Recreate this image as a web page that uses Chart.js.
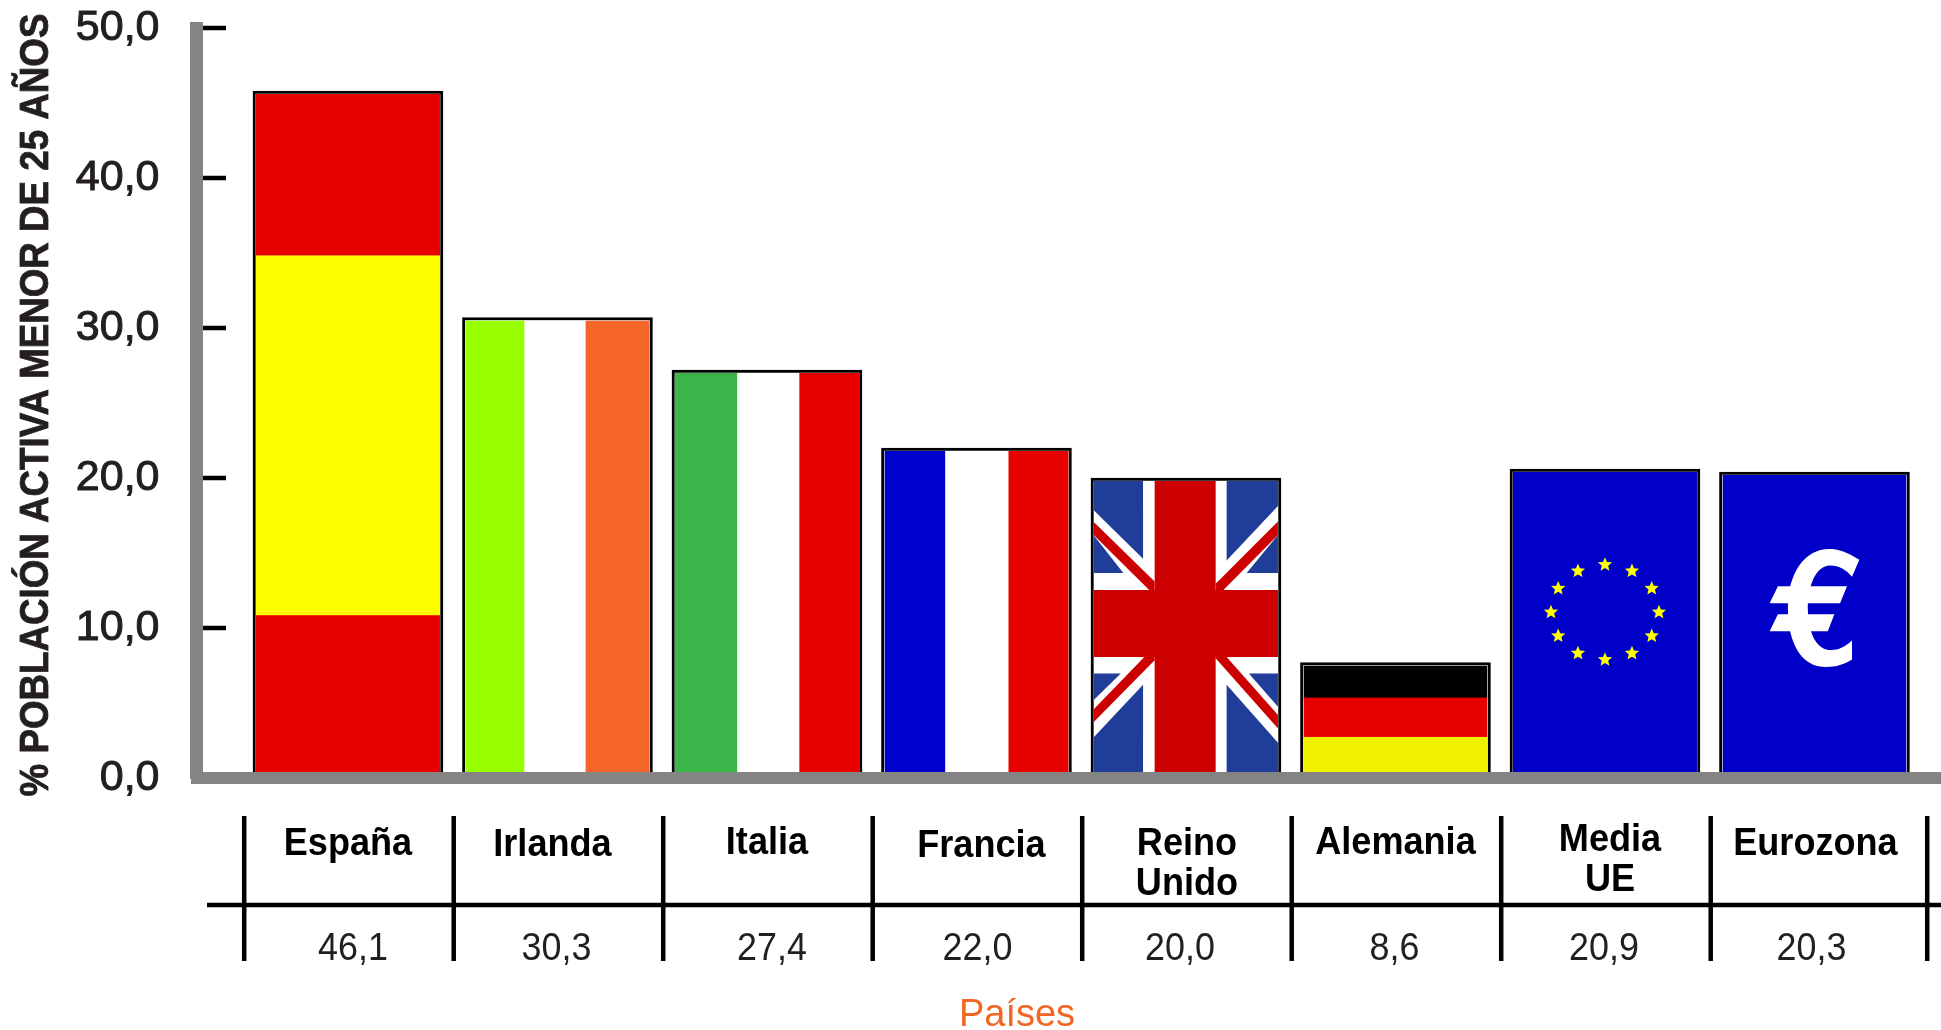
<!DOCTYPE html>
<html lang="es">
<head>
<meta charset="utf-8">
<title>Población activa menor de 25 años</title>
<script src="https://cdn.jsdelivr.net/npm/chart.js@4/dist/chart.umd.min.js"></script>
<style>
    html, body { margin: 0; padding: 0; background: #fff; }
    #chartBox { width: 1941px; height: 1030px; }
</style>
</head>
<body>
<div id="chartBox"><canvas id="paroChart"></canvas></div>
<script>
const countries = ['España', 'Irlanda', 'Italia', 'Francia', ['Reino', 'Unido'], 'Alemania', ['Media', 'UE'], 'Eurozona'];
// alturas de las barras tal como se ven en el dibujo (no coinciden siempre con la tabla)
const barHeights = [45.8, 30.7, 27.2, 22.0, 20.0, 7.7, 20.6, 20.4];
const tableValues = ['46,1', '30,3', '27,4', '22,0', '20,0', '8,6', '20,9', '20,3'];
const yTickLabels = ['0,0', '10,0', '20,0', '30,0', '40,0', '50,0'];
const flags = ['spain', 'ireland', 'italy', 'france', 'uk', 'germany', 'eu', 'euro'];

const yTitle = '% POBLACIÓN ACTIVA MENOR DE 25 AÑOS';
const xTitle = 'Países';

// pequeños desplazamientos de los textos de la tabla
const labelShift = [0, -5, 0, 5, 1, 0, 5, 1];
const valueShift = [5, -1, 5, 1, -6, -1, -1, -3];
const labelBaseline = [855, 856, 854, 857, 855, 854, 851, 855];

const RED = '#e60000';
const BLUE = '#0000c8';

function hStripes(ctx, r, parts) {
    let y = r.top;
    parts.forEach(p => {
        ctx.fillStyle = p[1];
        ctx.fillRect(r.left, y, r.w, p[0] * r.h + 1);
        y += p[0] * r.h;
    });
}

function vStripes(ctx, r, parts) {
    let x = r.left;
    parts.forEach(p => {
        ctx.fillStyle = p[1];
        ctx.fillRect(x, r.top, p[0] * r.w + 1, r.h);
        x += p[0] * r.w;
    });
}

// union jack: polígonos relativos a un rectángulo de 570 x 878
const ukBlue = [
    [[0, 0], [152, 0], [152, 230], [0, 87]],
    [[0, 162], [91, 272], [0, 272]],
    [[411, 0], [570, 0], [570, 74], [411, 235]],
    [[570, 160], [473, 272], [570, 272]],
    [[0, 569], [83, 569], [0, 647]],
    [[0, 757], [152, 602], [152, 878], [0, 878]],
    [[480, 569], [570, 667], [570, 569]],
    [[411, 602], [570, 774], [570, 878], [411, 878]]
];
const ukRed = [
    [[0, 122], [188, 297], [188, 322], [171, 322], [0, 160]],
    [[570, 120], [377, 304], [377, 322], [401, 322], [570, 160]],
    [[156, 520], [188, 520], [188, 530], [0, 712], [0, 674]],
    [[411, 520], [377, 520], [377, 524], [570, 732], [570, 692]]
];

function polygon(ctx, r, pts) {
    ctx.beginPath();
    pts.forEach((p, i) => {
        const x = r.left + p[0] / 570 * r.w;
        const y = r.top + p[1] / 878 * r.h;
        if (i === 0) ctx.moveTo(x, y); else ctx.lineTo(x, y);
    });
    ctx.closePath();
    ctx.fill();
}

function drawUk(ctx, r) {
    ctx.fillStyle = '#fff';
    ctx.fillRect(r.left, r.top, r.w, r.h);
    ctx.fillStyle = '#1f3d99';
    ukBlue.forEach(p => polygon(ctx, r, p));
    ctx.fillStyle = '#cc0000';
    ukRed.forEach(p => polygon(ctx, r, p));
    polygon(ctx, r, [[188, 0], [377, 0], [377, 878], [188, 878]]);
    polygon(ctx, r, [[0, 322], [570, 322], [570, 520], [0, 520]]);
}

function star(ctx, cx, cy, rad) {
    ctx.beginPath();
    for (let i = 0; i < 10; i++) {
        const a = -Math.PI / 2 + i * Math.PI / 5;
        const d = i % 2 === 0 ? rad : rad * 0.45;
        ctx.lineTo(cx + d * Math.cos(a), cy + d * Math.sin(a));
    }
    ctx.closePath();
    ctx.fill();
}

function drawEu(ctx, r) {
    ctx.fillStyle = BLUE;
    ctx.fillRect(r.left, r.top, r.w, r.h);
    ctx.fillStyle = '#ffff00';
    const cx = r.left + 0.5 * r.w;
    const cy = r.top + 0.458 * r.h;
    for (let i = 0; i < 12; i++) {
        const a = i * Math.PI / 6;
        star(ctx, cx + 54 * Math.sin(a), cy - 47.5 * Math.cos(a), 7.5);
    }
}

// símbolo del euro dibujado a mano, relativo a un rectángulo de 554 x 890
function drawEuro(ctx, r) {
    ctx.fillStyle = BLUE;
    ctx.fillRect(r.left, r.top, r.w, r.h);
    const px = v => r.left + v / 554 * r.w;
    const py = v => r.top + (v - 10) / 890 * r.h;
    const bez = (a, b, c, d, e, f) => ctx.bezierCurveTo(px(a), py(b), px(c), py(d), px(e), py(f));
    ctx.fillStyle = '#fff';
    ctx.beginPath();
    ctx.moveTo(px(412), py(259));
    bez(372, 234, 347, 227, 322, 227);
    bez(247, 227, 197, 299, 197, 399);
    bez(197, 504, 237, 574, 312, 574);
    bez(342, 574, 367, 566, 390, 552);
    ctx.lineTo(px(390), py(496));
    bez(370, 514, 350, 524, 327, 524);
    bez(287, 524, 260, 484, 257, 404);
    bez(257, 334, 282, 276, 324, 276);
    bez(352, 276, 372, 289, 390, 309);
    ctx.closePath();
    ctx.fill();
    const box = { left: r.left, top: r.top - 10 / 890 * r.h, w: r.w * 570 / 554, h: r.h * 878 / 890 };
    polygon(ctx, box, [[142, 387], [167, 337], [375, 337], [354, 387]]);
    polygon(ctx, box, [[142, 469], [167, 419], [337, 419], [317, 469]]);
}

const flagPainters = {
    spain: (c, r) => hStripes(c, r, [[0.236, RED], [0.526, '#ffff00'], [0.238, RED]]),
    ireland: (c, r) => vStripes(c, r, [[0.32, '#99ff00'], [0.333, '#fff'], [0.347, '#f5652a']]),
    italy: (c, r) => vStripes(c, r, [[0.338, '#39b54a'], [0.338, '#fff'], [0.324, RED]]),
    france: (c, r) => vStripes(c, r, [[0.33, '#0000cc'], [0.344, '#fff'], [0.326, RED]]),
    uk: drawUk,
    germany: (c, r) => hStripes(c, r, [[0.285, '#000'], [0.35, RED], [0.365, '#f2f200']]),
    eu: drawEu,
    euro: drawEuro
};

const flagPlugin = {
    id: 'flagPlugin',
    afterDatasetsDraw(chart) {
        const ctx = chart.ctx;
        const inset = 3;
        chart.getDatasetMeta(0).data.forEach((bar, i) => {
            const r = {
                left: bar.x - bar.width / 2 + inset,
                top: bar.y + inset,
                w: bar.width - inset * 2,
                h: bar.base - bar.y - inset
            };
            ctx.save();
            ctx.beginPath();
            ctx.rect(r.left, r.top, r.w, r.h);
            ctx.clip();
            flagPainters[flags[i]](ctx, r);
            ctx.restore();
        });
    }
};

// texto estrechado: el original usa una letra alta y condensada
function narrowText(ctx, text, x, y, squeeze, stroke) {
    ctx.save();
    ctx.translate(x, y);
    ctx.scale(squeeze, 1);
    ctx.fillText(text, 0, 0);
    if (stroke) {
        ctx.strokeStyle = ctx.fillStyle;
        ctx.lineWidth = stroke;
        ctx.strokeText(text, 0, 0);
    }
    ctx.restore();
}

// marcas del eje y hacia dentro, la tabla inferior y los títulos
const tablePlugin = {
    id: 'tablePlugin',
    afterDraw(chart) {
        const ctx = chart.ctx;
        const xs = chart.scales.x;
        const ys = chart.scales.y;
        ctx.save();

        ctx.strokeStyle = '#000';
        ctx.lineWidth = 4.5;
        ys.ticks.forEach(t => {
            if (t.value === 0) return;
            const py = ys.getPixelForValue(t.value);
            ctx.beginPath();
            ctx.moveTo(203, py);
            ctx.lineTo(226, py);
            ctx.stroke();
        });

        ctx.beginPath();
        ctx.moveTo(207, 905);
        ctx.lineTo(1941, 905);
        for (let i = 0; i <= countries.length; i++) {
            const px = xs.getPixelForValue(i - 0.5) + (i === countries.length ? 8 : 1);
            ctx.moveTo(px, 816);
            ctx.lineTo(px, 961);
        }
        ctx.stroke();

        ctx.textAlign = 'center';
        ctx.textBaseline = 'alphabetic';
        countries.forEach((name, i) => {
            const px = xs.getPixelForValue(i);
            const lines = Array.isArray(name) ? name : [name];
            ctx.fillStyle = '#000';
            ctx.font = 'bold 38px "Liberation Sans"';
            lines.forEach((line, k) => {
                narrowText(ctx, line, px + labelShift[i], labelBaseline[i] + k * 40, 0.95);
            });
            ctx.fillStyle = '#231f20';
            ctx.font = '39px "Liberation Sans"';
            narrowText(ctx, tableValues[i], px + valueShift[i], 960, 0.92);
        });

        ctx.fillStyle = '#f26522';
        ctx.font = '38px "Liberation Sans"';
        ctx.fillText(xTitle, 1017, 1026);

        // título del eje y, girado
        ctx.save();
        ctx.translate(48, 405);
        ctx.rotate(-Math.PI / 2);
        ctx.fillStyle = '#231f20';
        ctx.font = 'bold 40px "Liberation Sans"';
        narrowText(ctx, yTitle, 0, 0, 0.918, 0.8);
        ctx.restore();

        ctx.restore();
    }
};

const paroChartConfig = {
    type: 'bar',
    data: {
        labels: countries,
        datasets: [{
            data: barHeights.map((v, i) => ({ x: i, y: v })),
            backgroundColor: '#fff',
            borderColor: '#000',
            borderWidth: 3,
            borderSkipped: false,
            barThickness: 190
        }]
    },
    options: {
        responsive: true,
        maintainAspectRatio: false,
        animation: false,
        layout: { padding: { top: 28, bottom: 252, left: 0, right: 0 } },
        plugins: {
            legend: { display: false },
            tooltip: { enabled: false }
        },
        scales: {
            x: {
                type: 'linear',
                offset: false,
                min: -0.723,
                max: 7.604,
                grid: { display: false },
                ticks: { display: false },
                border: { display: true, color: '#848484', width: 12, z: 1 },
                afterFit: s => { s.height = 0; }
            },
            y: {
                min: 0,
                max: 50,
                grid: { display: false, drawTicks: false },
                border: { display: true, color: '#848484', width: 13, z: 1 },
                ticks: {
                    stepSize: 10,
                    padding: 37,
                    color: '#231f20',
                    textStrokeColor: '#231f20',
                    textStrokeWidth: 1,
                    font: { family: '"Liberation Sans"', size: 43 },
                    callback: (v, i) => yTickLabels[i]
                },
                afterFit: s => {
                    s.width = 196.5;
                    s.paddingTop = 0;
                    s.paddingBottom = 0;
                }
            }
        }
    },
    plugins: [flagPlugin, tablePlugin]
};

const paroChart = new Chart(document.getElementById('paroChart'), paroChartConfig);
</script>
</body>
</html>
